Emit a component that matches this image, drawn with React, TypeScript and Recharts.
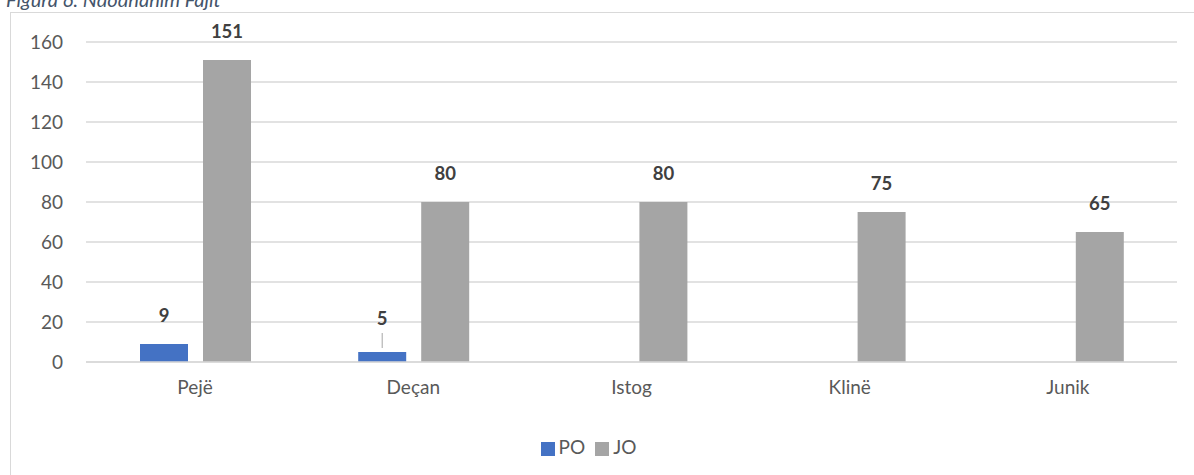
import React from "react";
import { BarChart, Bar, XAxis, YAxis, CartesianGrid, Legend, LabelList } from "recharts";

const komunat = ["Pejë", "Deçan", "Istog", "Klinë", "Junik"];
const po: (number | null)[] = [9, 5, null, null, null];
const jo = [151, 80, 80, 75, 65];
const yTicks = [0, 20, 40, 60, 80, 100, 120, 140, 160];
const seriesOrder = ["PO", "JO"];

const data = komunat.map((k, i) => ({ komuna: k, PO: po[i], JO: jo[i] }));

const FONT = "Lato, 'Open Sans', sans-serif";

// value label above each bar; very short bars get a small leader line
const ValueLabel = (props: any) => {
  const { x, y, width, height, value } = props;
  if (value == null) return null;
  const cx = x + width / 2;
  const short = height < 14;
  const ty = short ? y - 34 : y - 29;
  return (
    <g>
      {short && <line x1={cx} x2={cx} y1={y - 4} y2={y - 19} stroke="#a6a6a6" strokeWidth={1} />}
      <text x={cx} y={ty} textAnchor="middle" dominantBaseline="central" fontFamily={FONT} fontWeight={700} fontSize={18.5} fill="#404040">
        {value}
      </text>
    </g>
  );
};

export default function App() {
  return (
    <div style={{ position: "absolute", left: 0, top: 0, width: 1194, height: 475, background: "#fff", overflow: "hidden" }}>
      <div style={{ position: "absolute", left: 6, top: -13, fontFamily: FONT, fontStyle: "italic", fontSize: 20, color: "#44546a" }}>
        Figura 6: Ndodhanim Fajit
      </div>
      <div style={{ position: "absolute", left: 10, top: 12, width: 1200, height: 480, border: "1px solid #d9d9d9" }} />
      <div style={{ position: "absolute", left: 0, top: 0 }}>
        <BarChart width={1194} height={475} data={data} margin={{ top: 42, right: 17, left: 10, bottom: 17 }} barGap={15} barSize={48}>
          <CartesianGrid vertical={false} stroke="#d9d9d9" strokeWidth={1.5} />
          <XAxis
            dataKey="komuna"
            axisLine={{ stroke: "#d9d9d9", strokeWidth: 1.5 }}
            tickLine={false}
            height={73}
            tickMargin={13}
            tick={{ fontFamily: FONT, fontSize: 19, fill: "#595959" }}
          />
          <YAxis
            domain={[0, 160]}
            ticks={yTicks}
            width={76}
            axisLine={false}
            tickLine={false}
            tickMargin={17}
            tick={{ fontFamily: FONT, fontSize: 19, fill: "#595959" }}
          />
          <Legend
            verticalAlign="bottom"
            iconType="square"
            iconSize={14}
            itemSorter={(e: any) => seriesOrder.indexOf(e.value)}
            wrapperStyle={{ fontFamily: FONT, fontSize: 19, color: "#595959" }}
            formatter={(v: string) => <span style={{ color: "#595959" }}>{v}</span>}
          />
          <Bar dataKey="PO" name="PO" fill="#4472c4" isAnimationActive={false}>
            <LabelList dataKey="PO" content={ValueLabel} />
          </Bar>
          <Bar dataKey="JO" name="JO" fill="#a5a5a5" isAnimationActive={false}>
            <LabelList dataKey="JO" content={ValueLabel} />
          </Bar>
        </BarChart>
      </div>
    </div>
  );
}
